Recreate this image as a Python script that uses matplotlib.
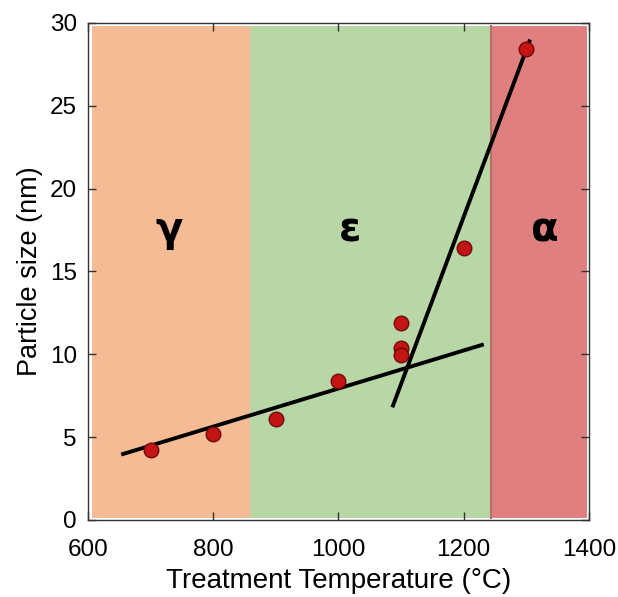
import numpy as np
import matplotlib
matplotlib.use("Agg")
import matplotlib.pyplot as plt

plt.rcParams['font.family'] = ['Liberation Sans', 'DejaVu Sans']

# measured particle sizes
temp = [700, 800, 900, 1000, 1100, 1100, 1100, 1200, 1300]
size = [4.2, 5.2, 6.1, 8.4, 11.9, 10.4, 9.95, 16.4, 28.4]

# two linear fits (end points)
fit1_x = [653, 1232]
fit1_y = [3.95, 10.6]
fit2_x = [1086, 1306]
fit2_y = [6.8, 29.0]

# phase regions
phase_names = ['γ', 'ε', 'α']
phase_start = [607, 859, 1243]
phase_end = [859, 1243, 1397]
phase_colors = ['#f4bb94', '#b8d6a6', '#df7f80']
label_x = [730, 1018, 1330]
label_y = 17.5

fig = plt.figure(figsize=(6.18, 5.97), dpi=100)
ax = fig.add_axes([0.1424, 0.129, 0.8106, 0.8325])

for s, e, c in zip(phase_start, phase_end, phase_colors):
    ax.axvspan(s, e, ymin=0.004, ymax=0.993, color=c, lw=0, zorder=0)
ax.plot([phase_start[2], phase_start[2]], [0.1, 29.8], color='#b37262', lw=1.5, zorder=1)

for n, x in zip(phase_names, label_x):
    ax.text(x, label_y, n, fontsize=29, fontweight='bold', ha='center', va='center',
            family=['DejaVu Sans'])

ax.plot(fit1_x, fit1_y, color='black', lw=2.8, solid_capstyle='butt', zorder=3)
ax.plot(fit2_x, fit2_y, color='black', lw=2.8, solid_capstyle='butt', zorder=3)
ax.scatter(temp, size, s=110, color='#c41414', edgecolors='#6e0a0a', linewidths=1.0, zorder=4)

ax.set_xlim(600, 1400)
ax.set_ylim(0, 30)
ax.set_xticks([600, 800, 1000, 1200, 1400])
ax.set_yticks([0, 5, 10, 15, 20, 25, 30])
ax.tick_params(direction='in', top=True, right=True, length=6, width=1,
               labelsize=17.5, color='#333333')
ax.tick_params(axis='x', pad=14)
ax.tick_params(axis='y', pad=8)
for sp in ax.spines.values():
    sp.set_color('#333333')
    sp.set_linewidth(1.0)

ax.set_xlabel('Treatment Temperature (°C)', fontsize=20, labelpad=5)
ax.set_ylabel('Particle size (nm)', fontsize=19.5, labelpad=5)

fig.savefig('out.png', dpi=100)
